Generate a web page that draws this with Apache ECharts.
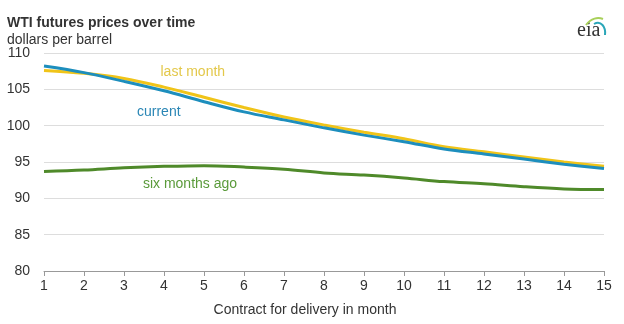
<!DOCTYPE html>
<html>
<head>
<meta charset="utf-8">
<script src="https://cdn.jsdelivr.net/npm/echarts@6/dist/echarts.min.js"></script>
<style>html,body{margin:0;padding:0;background:#fff;}#c{width:624px;height:324px;}</style>
</head>
<body>
<div id="c"></div>
<script>
const months = [1,2,3,4,5,6,7,8,9,10,11,12,13,14,15];
const current = [108.2,107.3,106.1,104.8,103.3,101.9,100.8,99.7,98.7,97.8,96.8,96.1,95.4,94.7,94.1];
const lastMonth = [107.6,107.2,106.5,105.3,103.9,102.5,101.2,100.1,99.1,98.2,97.1,96.4,95.7,95.0,94.4];
const sixMonthsAgo = [93.7,93.9,94.2,94.4,94.5,94.3,94.0,93.5,93.2,92.8,92.3,92.0,91.6,91.3,91.2];
const yTicks = [80,85,90,95,100,105,110];

const pairs = arr => months.map((m,i)=>[m,arr[i]]);
const chart = echarts.init(document.getElementById('c'), null, {renderer:'canvas'});
const font = 'Liberation Sans, Arial, sans-serif';
const option = {
  animation:false,
  textStyle:{fontFamily:font},
  grid:{left:44,right:20,top:53,bottom:53},
  xAxis:{type:'value',min:1,max:15,interval:1,
    name:'Contract for delivery in month',nameLocation:'middle',nameGap:32,
    nameTextStyle:{fontSize:14,color:'#333',fontFamily:font,padding:[0,38,0,0]},
    axisLine:{lineStyle:{color:'#999',width:1}},
    axisTick:{show:true,length:5,lineStyle:{color:'#999'}},
    axisLabel:{fontSize:14,color:'#333',margin:8,fontFamily:font},
    splitLine:{show:false}},
  yAxis:{type:'value',min:yTicks[0],max:yTicks[yTicks.length-1],interval:5,
    axisLine:{show:false},axisTick:{show:false},
    axisLabel:{fontSize:14,color:'#333',margin:14,fontFamily:font},
    splitLine:{lineStyle:{color:'#ddd',width:1}}},
  series:[
    {name:'six months ago',type:'line',data:pairs(sixMonthsAgo),smooth:0.35,symbol:'none',lineStyle:{color:'#4f8a2a',width:3}},
    {name:'last month',type:'line',data:pairs(lastMonth),smooth:0.35,symbol:'none',lineStyle:{color:'#f0c419',width:3}},
    {name:'current',type:'line',data:pairs(current),smooth:0.35,symbol:'none',lineStyle:{color:'#1d8ebd',width:3}}
  ],
  graphic:[
    {type:'text',left:7,top:16,style:{text:'WTI futures prices over time',font:'bold 14px '+font,fill:'#333'}},
    {type:'text',left:7,top:33,style:{text:'dollars per barrel',font:'14px '+font,fill:'#333'}},
    {type:'text',left:577,top:21,style:{text:'eia',font:'20px Liberation Serif, DejaVu Serif, serif',fill:'#333'}},
    {type:'bezierCurve',shape:{x1:586,y1:25,x2:603,y2:19,cpx1:591,cpy1:18,cpx2:598,cpy2:17},style:{stroke:'#a8d05a',lineWidth:2,fill:null}},
    {type:'bezierCurve',shape:{x1:594,y1:24,x2:605,y2:35,cpx1:601,cpy1:20,cpx2:606,cpy2:27},style:{stroke:'#2aa6b8',lineWidth:2,fill:null}}
  ]
};
chart.setOption(option);
function lab(txt,x,y,color){
  const p = chart.convertToPixel({gridIndex:0},[x,y]);
  return {type:'text',x:p[0],y:p[1],style:{text:txt,font:'14px '+font,fill:color,textAlign:'center',textVerticalAlign:'middle'}};
}
const g = option.graphic.concat([
  lab('last month',4.72,107.4,'#e3c84a'),
  lab('current',3.87,101.8,'#2a86b5'),
  lab('six months ago',4.65,91.9,'#5a9a3a')
]);
chart.setOption({graphic:g});
</script>
</body>
</html>
